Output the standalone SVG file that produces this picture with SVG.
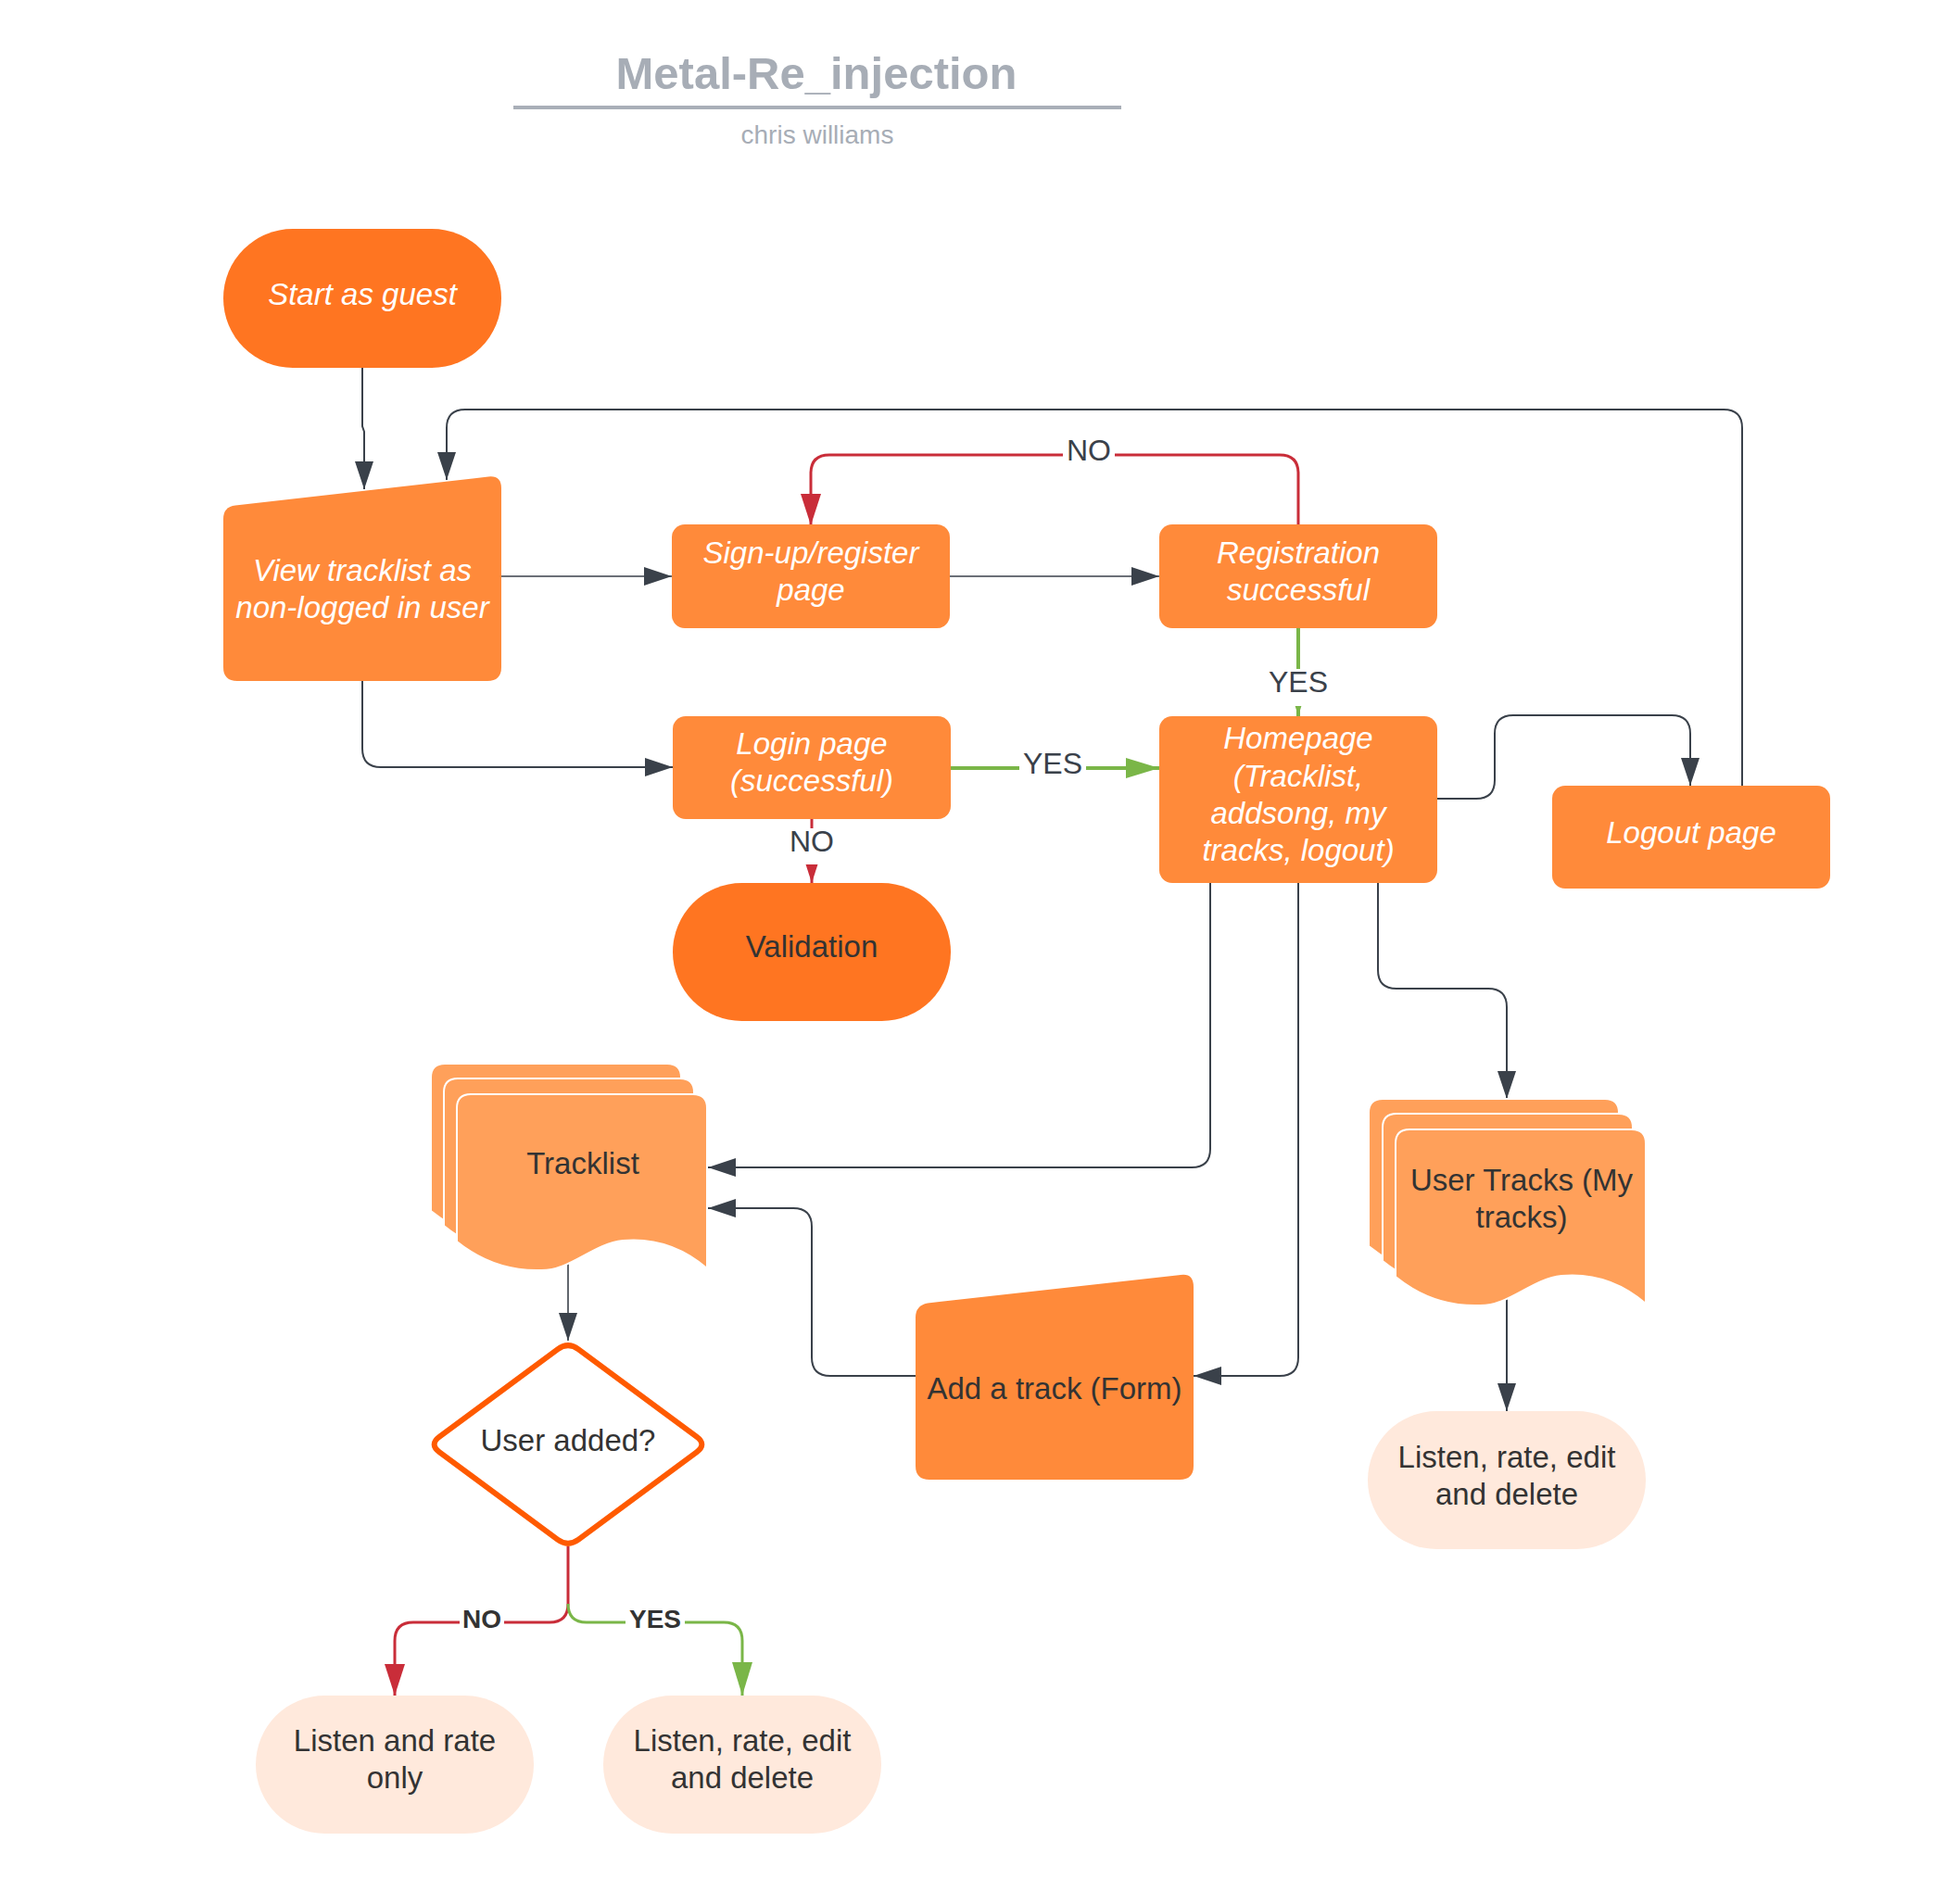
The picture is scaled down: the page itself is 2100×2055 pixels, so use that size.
<svg xmlns="http://www.w3.org/2000/svg" xmlns:xlink="http://www.w3.org/1999/xlink" width="2100" height="2055" viewBox="0 0 2100 2055">
<style>
text{font-family:"Liberation Sans",Arial,sans-serif;text-anchor:middle}
.nt{font-size:33px;fill:#ffffff;font-style:italic}
.dt{font-size:33px;fill:#333333}
.lb{font-size:32px;fill:#3a414a}
.lbb{font-size:28px;fill:#333333;font-weight:bold}
.box{fill:#ff8a3a}
.term{fill:#ff7521}
.doc{fill:#ffa05a;stroke:#ffffff;stroke-width:2}
.light{fill:#ffe9dc}
.cd{fill:none;stroke:#3a414a;stroke-width:2}
.cr{fill:none;stroke:#c92d39;stroke-width:3}
.cg{fill:none;stroke:#7ab648;stroke-width:4}
.bg{fill:#ffffff}
</style>
<defs>
<marker id="ad" markerUnits="userSpaceOnUse" markerWidth="30" markerHeight="20" refX="30" refY="10" orient="auto"><path d="M0,0 L30,10 L0,20 Z" fill="#3a414a"/></marker>
<marker id="ar" markerUnits="userSpaceOnUse" markerWidth="34" markerHeight="22" refX="34" refY="11" orient="auto"><path d="M0,0 L34,11 L0,22 Z" fill="#c92d39"/></marker>
<marker id="ag" markerUnits="userSpaceOnUse" markerWidth="36" markerHeight="22" refX="36" refY="11" orient="auto"><path d="M0,0 L36,11 L0,22 Z" fill="#7ab648"/></marker>
<path id="docshape" d="M0,15 Q0,0 15,0 L255,0 Q270,0 270,15 L270,188 C242,164 212,155 179,158 C147,161 122,191 90,190 C57,191 27,181 0,159 Z"/>
</defs>
<rect width="2100" height="2055" fill="#ffffff"/>

<g id="title">
<text x="881" y="96" style="font-size:49px;font-weight:bold;fill:#a7adb6">Metal-Re_injection</text>
<rect x="554" y="114" width="656" height="4" fill="#a9afb8"/>
<text x="882" y="155" style="font-size:28px;fill:#a7adb6">chris williams</text>
</g>

<g id="connectors">
<path class="cd" d="M391,397 L391,460 L393,466 L393,528" marker-end="url(#ad)"/>
<path class="cd" d="M1880,848 L1880,462 Q1880,442 1860,442 L502,442 Q482,442 482,462 L482,518" marker-end="url(#ad)"/>
<path class="cd" style="stroke-width:1.6" d="M541,622 L725,622" marker-end="url(#ad)"/>
<path class="cd" style="stroke-width:1.6" d="M1025,622 L1251,622" marker-end="url(#ad)"/>
<path class="cr" d="M1401,566 L1401,511 Q1401,491 1381,491 L895,491 Q875,491 875,511 L875,567" marker-end="url(#ar)"/>
<path class="cg" d="M1401,678 L1401,773" marker-end="url(#ag)"/>
<path class="cd" d="M391,735 L391,808 Q391,828 411,828 L726,828" marker-end="url(#ad)"/>
<path class="cg" d="M1025,829 L1251,829" marker-end="url(#ag)"/>
<path class="cr" d="M876,884 L876,953" marker-end="url(#ar)"/>
<path class="cd" d="M1551,862 L1593,862 Q1613,862 1613,842 L1613,792 Q1613,772 1633,772 L1804,772 Q1824,772 1824,792 L1824,848" marker-end="url(#ad)"/>
<path class="cd" d="M1306,953 L1306,1240 Q1306,1260 1286,1260 L764,1260" marker-end="url(#ad)"/>
<path class="cd" d="M1401,953 L1401,1465 Q1401,1485 1381,1485 L1288,1485" marker-end="url(#ad)"/>
<path class="cd" d="M988,1485 L896,1485 Q876,1485 876,1465 L876,1324 Q876,1304 856,1304 L764,1304" marker-end="url(#ad)"/>
<path class="cd" d="M1487,953 L1487,1047 Q1487,1067 1507,1067 L1606,1067 Q1626,1067 1626,1087 L1626,1186" marker-end="url(#ad)"/>
<path class="cd" d="M1626,1401 L1626,1523" marker-end="url(#ad)"/>
<path class="cd" style="stroke-width:1.6" d="M613,1363 L613,1447" marker-end="url(#ad)"/>
<path class="cr" d="M613,1669 L613,1731 Q613,1751 593,1751 L446,1751 Q426,1751 426,1771 L426,1830" marker-end="url(#ar)"/>
<path class="cg" style="stroke-width:3" d="M613,1731 Q613,1751 633,1751 L781,1751 Q801,1751 801,1771 L801,1830" marker-end="url(#ag)"/>
<rect class="bg" x="1147" y="470" width="56" height="34"/>
<text class="lb" x="1175" y="497">NO</text>
<rect class="bg" x="1364" y="722" width="74" height="40"/>
<text class="lb" x="1401" y="747">YES</text>
<rect class="bg" x="1100" y="810" width="72" height="34"/>
<text class="lb" x="1136" y="835">YES</text>
<rect class="bg" x="850" y="894" width="52" height="39"/>
<text class="lb" x="876" y="919">NO</text>
<rect class="bg" x="496" y="1733" width="48" height="30"/>
<text class="lbb" x="520" y="1757">NO</text>
<rect class="bg" x="675" y="1733" width="64" height="30"/>
<text class="lbb" x="707" y="1757">YES</text>
</g>

<g id="start">
<rect class="term" x="241" y="247" width="300" height="150" rx="75" ry="75"/>
<text class="nt" x="391" y="329">Start as guest</text>
</g>

<g id="view">
<path class="box" d="M241,560 Q241,547 254,545.5 L527,514.5 Q541,513 541,527 L541,720 Q541,735 526,735 L256,735 Q241,735 241,720 Z"/>
<text class="nt" x="391" y="627">View tracklist as</text>
<text class="nt" x="391" y="667">non-logged in user</text>
</g>

<g id="signup">
<rect class="box" x="725" y="566" width="300" height="112" rx="14"/>
<text class="nt" x="875" y="608">Sign-up/register</text>
<text class="nt" x="875" y="648">page</text>
</g>

<g id="registration">
<rect class="box" x="1251" y="566" width="300" height="112" rx="14"/>
<text class="nt" x="1401" y="608">Registration</text>
<text class="nt" x="1401" y="648">successful</text>
</g>

<g id="login">
<rect class="box" x="726" y="773" width="300" height="111" rx="14"/>
<text class="nt" x="876" y="814">Login page</text>
<text class="nt" x="876" y="854">(successful)</text>
</g>

<g id="homepage">
<rect class="box" x="1251" y="773" width="300" height="180" rx="14"/>
<text class="nt" x="1401" y="808">Homepage</text>
<text class="nt" x="1401" y="849">(Tracklist,</text>
<text class="nt" x="1401" y="889">addsong, my</text>
<text class="nt" x="1401" y="929">tracks, logout)</text>
</g>

<g id="logout">
<rect class="box" x="1675" y="848" width="300" height="111" rx="14"/>
<text class="nt" x="1825" y="910">Logout page</text>
</g>

<g id="validation">
<rect class="term" x="726" y="953" width="300" height="149" rx="74.5" ry="74.5"/>
<text class="dt" x="876" y="1033">Validation</text>
</g>

<g id="tracklist">
<use xlink:href="#docshape" class="doc" transform="translate(465,1148)"/>
<use xlink:href="#docshape" class="doc" transform="translate(479,1164)"/>
<use xlink:href="#docshape" class="doc" transform="translate(493,1181)"/>
<text class="dt" x="629" y="1267">Tracklist</text>
</g>

<g id="usertracks">
<use xlink:href="#docshape" class="doc" transform="translate(1477,1186)"/>
<use xlink:href="#docshape" class="doc" transform="translate(1492,1202)"/>
<use xlink:href="#docshape" class="doc" transform="translate(1506,1219)"/>
<text class="dt" x="1642" y="1285">User Tracks (My</text>
<text class="dt" x="1642" y="1325">tracks)</text>
</g>

<g id="addtrack">
<path class="box" d="M988,1422 Q988,1409 1001,1406.5 L1274,1376 Q1288,1374 1288,1389 L1288,1582 Q1288,1597 1273,1597 L1003,1597 Q988,1597 988,1582 Z"/>
<text class="dt" x="1138" y="1510">Add a track (Form)</text>
</g>

<g id="useradded">
<path d="M601.7,1456.3 Q613,1448 624.3,1456.3 L751.7,1550.7 Q763,1559 751.7,1567.3 L624.3,1661.7 Q613,1670 601.7,1661.7 L474.3,1567.3 Q463,1559 474.3,1550.7 Z" fill="#ffffff" stroke="#ff5a00" stroke-width="6" stroke-linejoin="round"/>
<text class="dt" x="613" y="1566">User added?</text>
</g>

<g id="listen-right">
<rect class="light" x="1476" y="1523" width="300" height="149" rx="74.5" ry="74.5"/>
<text class="dt" x="1626" y="1584">Listen, rate, edit</text>
<text class="dt" x="1626" y="1624">and delete</text>
</g>

<g id="listen-rate-only">
<rect class="light" x="276" y="1830" width="300" height="149" rx="74.5" ry="74.5"/>
<text class="dt" x="426" y="1890">Listen and rate</text>
<text class="dt" x="426" y="1930">only</text>
</g>

<g id="listen-edit">
<rect class="light" x="651" y="1830" width="300" height="149" rx="74.5" ry="74.5"/>
<text class="dt" x="801" y="1890">Listen, rate, edit</text>
<text class="dt" x="801" y="1930">and delete</text>
</g>
</svg>
